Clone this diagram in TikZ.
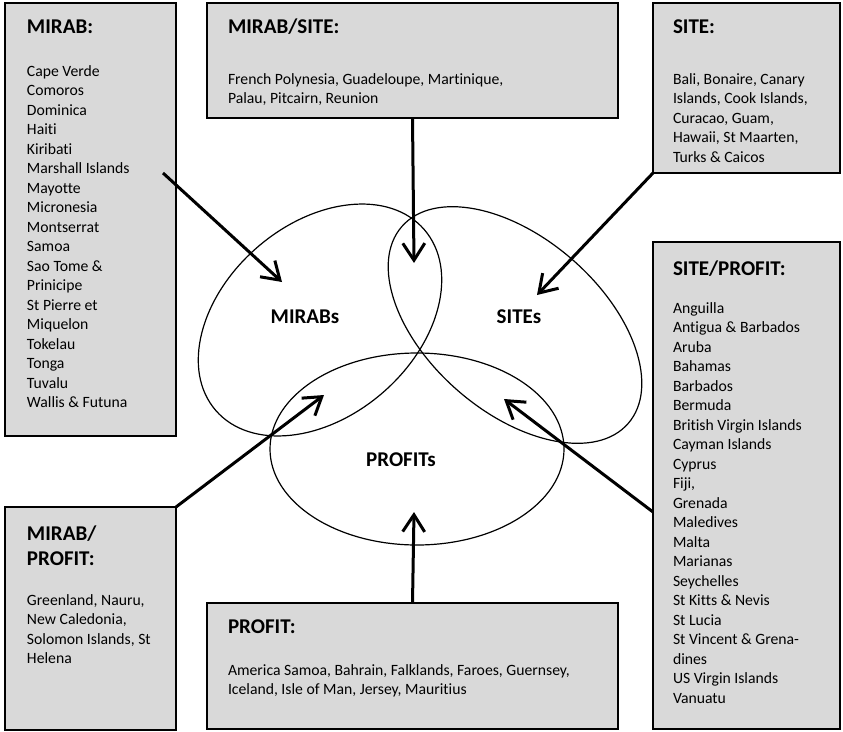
\documentclass[tikz,border=0pt]{standalone}
\usepackage{fontspec}
\setmainfont{Carlito}[Ligatures=NoCommon]
\usetikzlibrary{arrows.meta,shapes.geometric}
\definecolor{panelgray}{HTML}{D9D9D9}
% a list of lines whose first baseline is the box baseline
\newcommand\boxlist[2]{\parbox[t]{#1}{\fontsize{15.7pt}{19.5pt}\selectfont #2}}
\newcommand\boxhead[2]{\parbox[t]{#1}{\fontsize{21pt}{25pt}\selectfont\bfseries #2}}
\begin{document}
\begin{tikzpicture}[x=1pt,y=-1pt,
  panel/.style={draw=black,line width=1.4pt,fill=panelgray,inner sep=0pt,outer sep=0pt,anchor=north west},
  setshape/.style={draw=black,line width=1.2pt,ellipse,inner sep=0pt,outer sep=0pt},
  txt/.style={anchor=base west,inner sep=0pt,outer sep=0pt},
  setlabel/.style={anchor=base,inner sep=0pt,font=\fontsize{21pt}{25pt}\selectfont\bfseries},
  pointer/.style={line width=3pt,-{Straight Barb[length=17pt,width=22pt]}}
]
\useasboundingbox (0,0) rectangle (843,731);

% category boxes
\node[panel,minimum width=171pt,minimum height=433pt] (mirab) at (5,3) {};
\node[panel,minimum width=411pt,minimum height=115pt] (mirabsite) at (207,3) {};
\node[panel,minimum width=187pt,minimum height=170pt] (site) at (653,3) {};
\node[panel,minimum width=187pt,minimum height=487pt] (siteprofit) at (653,242) {};
\node[panel,minimum width=171pt,minimum height=223pt] (mirabprofit) at (5,507) {};
\node[panel,minimum width=411pt,minimum height=126pt] (profit) at (207,603) {};

% box contents
\node[txt] (mirabT) at (27,33) {\boxhead{140pt}{MIRAB:}};
\node[txt] (mirabL) at (27,76) {\boxlist{145pt}{Cape Verde\\Comoros\\Dominica\\Haiti\\Kiribati\\Marshall Islands\\Mayotte\\Micronesia\\Montserrat\\Samoa\\Sao Tome \&\\Prinicipe\\St Pierre et\\Miquelon\\Tokelau\\Tonga\\Tuvalu\\Wallis \& Futuna}};

\node[txt] (mirabsiteT) at (228,33) {\boxhead{300pt}{MIRAB/SITE:}};
\node[txt] (mirabsiteL) at (228,84) {\boxlist{380pt}{French Polynesia, Guadeloupe, Martinique,\\Palau, Pitcairn, Reunion}};

\node[txt] (siteT) at (673,33) {\boxhead{150pt}{SITE:}};
\node[txt] (siteL) at (673,84) {\boxlist{165pt}{Bali, Bonaire, Canary\\Islands, Cook Islands,\\Curacao, Guam,\\Hawaii, St Maarten,\\Turks \& Caicos}};

\node[txt] (siteprofitT) at (673,275) {\boxhead{160pt}{SITE/PROFIT:}};
\node[txt] (siteprofitL) at (673,313) {\boxlist{165pt}{Anguilla\\Antigua \& Barbados\\Aruba\\Bahamas\\Barbados\\Bermuda\\British Virgin Islands\\Cayman Islands\\Cyprus\\Fiji,\\Grenada\\Maledives\\Malta\\Marianas\\Seychelles\\St Kitts \& Nevis\\St Lucia\\St Vincent \& Grena-\\dines\\US Virgin Islands\\Vanuatu}};

\node[txt] (mirabprofitT) at (27,540) {\boxhead{140pt}{MIRAB/\\PROFIT:}};
\node[txt] (mirabprofitL) at (27,605) {\boxlist{145pt}{Greenland, Nauru,\\New Caledonia,\\Solomon Islands, St\\Helena}};

\node[txt] (profitT) at (228,633) {\boxhead{300pt}{PROFIT:}};
\node[txt] (profitL) at (228,675) {\boxlist{385pt}{America Samoa, Bahrain, Falklands, Faroes, Guernsey,\\Iceland, Isle of Man, Jersey, Mauritius}};

% the three overlapping sets
\node[setshape,minimum width=276pt,minimum height=192pt,rotate=41] (mirabs) at (320,320) {};
\node[setshape,minimum width=300pt,minimum height=174pt,rotate=-41] (sites) at (515,325) {};
\node[setshape,minimum width=294pt,minimum height=192pt] (profits) at (417,449) {};

\node[setlabel] (mirabsL) at (305,323) {MIRABs};
\node[setlabel] (sitesL) at (519,323) {SITEs};
\node[setlabel] (profitsL) at (401,466) {PROFITs};

% pointers from the boxes into the regions
\coordinate (mStart) at (163,173);
\coordinate (mTip) at (282,282);
\coordinate (msTip) at (414,263);
\coordinate (sTip) at (537,295);
\coordinate (mpTip) at (324,395);
\coordinate (spStart) at (653,512);
\coordinate (spTip) at (504,399);
\coordinate (pTip) at (414,512);

\draw[pointer] (mStart) -- (mTip);
\draw[pointer] (mirabsite.south |- 0,118) -- (msTip);
\draw[pointer] (site.south west) -- (sTip);
\draw[pointer] (mirabprofit.north east) -- (mpTip);
\draw[pointer] (spStart) -- (spTip);
\draw[pointer] (profit.north |- 0,603) -- (pTip);
\end{tikzpicture}
\end{document}
